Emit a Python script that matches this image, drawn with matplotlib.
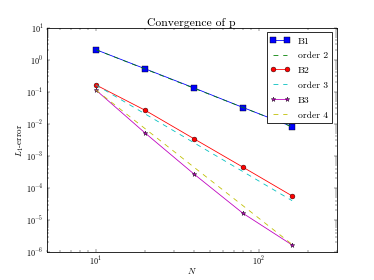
import matplotlib
matplotlib.use("Agg")
from matplotlib import pyplot as plt
from matplotlib.ticker import NullFormatter

plt.style.use("classic")
plt.rcParams["font.family"] = "cmr10"
plt.rcParams["mathtext.fontset"] = "cm"
plt.rcParams["axes.formatter.use_mathtext"] = True
plt.rcParams["xtick.labelsize"] = 10
plt.rcParams["ytick.labelsize"] = 10
plt.rcParams["xtick.major.pad"] = 1.5
plt.rcParams["axes.labelsize"] = 11

N = [10, 20, 40, 80, 160]

# measured errors
b1 = [2.05, 0.52, 0.131, 0.032, 0.0081]
b2 = [0.163, 0.0265, 0.0034, 0.00044, 5.6e-05]
b3 = [0.113, 0.0052, 0.00027, 1.6e-05, 1.65e-06]

# reference slopes
order2 = [2.05, 0.51, 0.128, 0.032, 0.0080]
order3 = [0.163, 0.0204, 0.00255, 0.00032, 3.98e-05]
order4 = [0.113, 0.0071, 0.00044, 2.76e-05, 1.72e-06]

yticks = [1e-6, 1e-5, 1e-4, 1e-3, 1e-2, 1e-1, 1e0, 1e1]
xticks = [10, 100]


def main():
    fig = plt.figure(figsize=(6.4, 4.8))
    ax = fig.add_subplot(111)
    ax.loglog(N, b1, "b-s", label="B1", markersize=7)
    ax.loglog(N, order2, "g--", label="order 2")
    ax.loglog(N, b2, "r-o", label="B2")
    ax.loglog(N, order3, "c--", label="order 3")
    ax.loglog(N, b3, "m-*", label="B3")
    ax.loglog(N, order4, "y--", label="order 4")
    ax.set_xticks(xticks)
    ax.set_yticks(yticks)
    ax.set_xlim(5, 300)
    ax.set_ylim(1e-6, 10)
    ax.xaxis.set_minor_formatter(NullFormatter())
    ax.yaxis.set_minor_formatter(NullFormatter())
    ax.set_xlabel("$N$", labelpad=-1)
    ax.set_ylabel("$L_1$-error", labelpad=0)
    ax.set_title("Convergence of p", pad=3)
    ax.legend(loc="upper right", fontsize=12, labelspacing=0.62)
    fig.savefig("out.png", dpi=374 / 6.4)


if __name__ == "__main__":
    main()
